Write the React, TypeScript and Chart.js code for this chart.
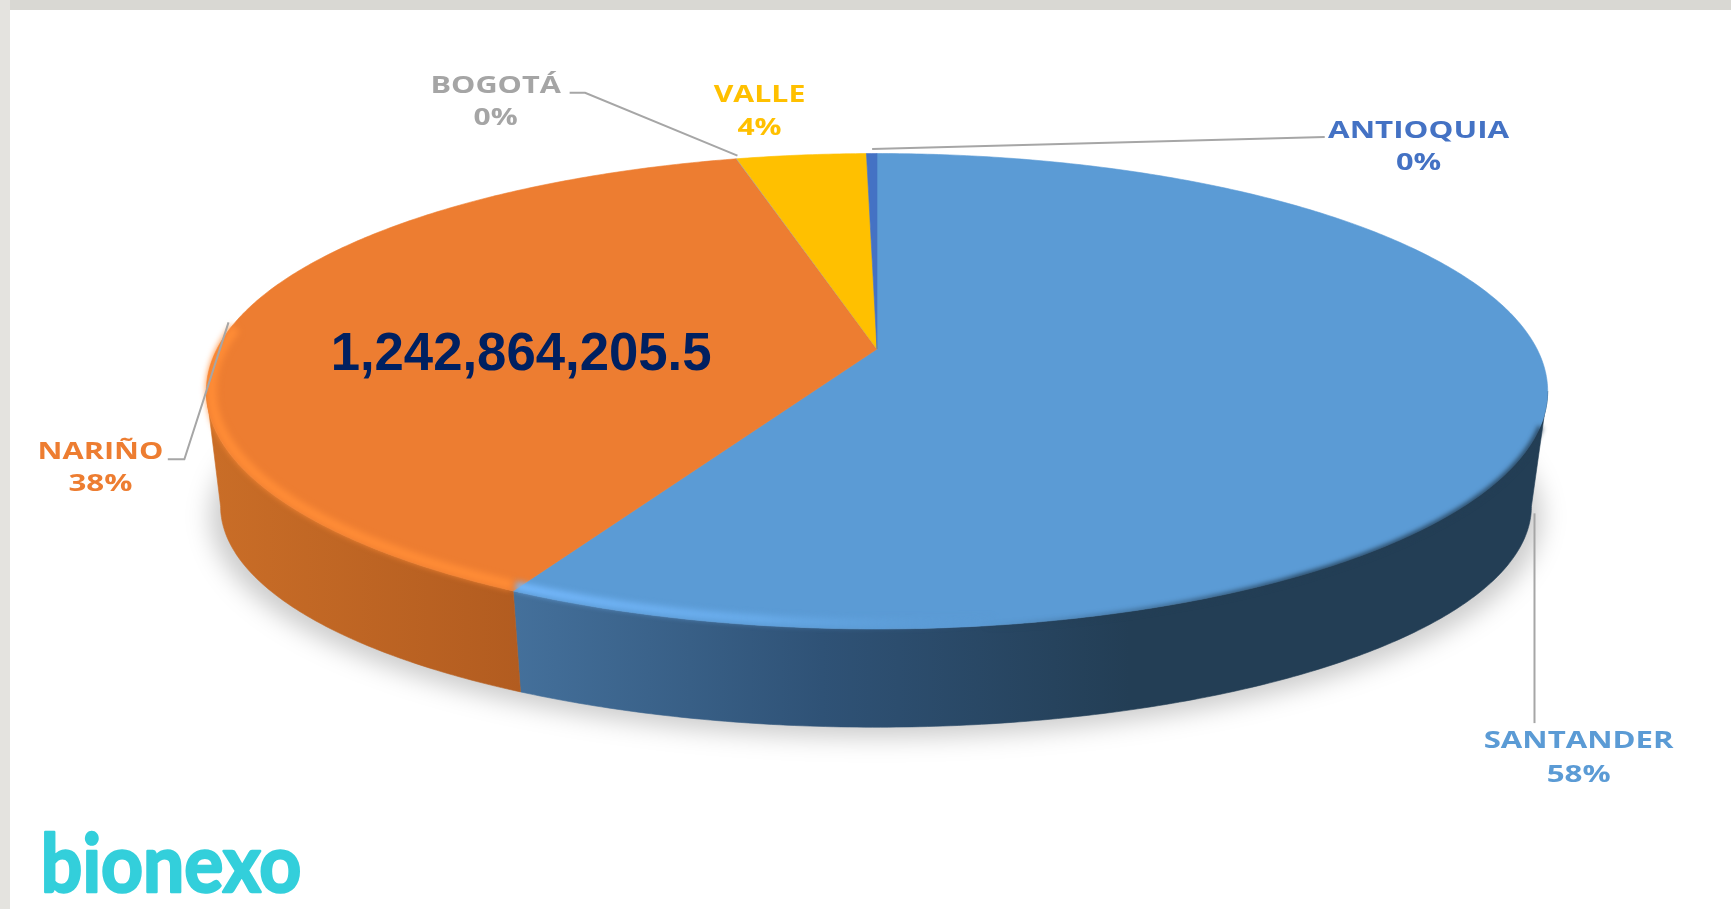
import React, { useEffect, useRef } from "react";
import { Chart, registerables, ArcElement } from "chart.js";

Chart.register(...registerables);

const categories = ["SANTANDER", "NARIÑO", "BOGOTÁ", "VALLE", "ANTIOQUIA"];
const shares = [57.7, 38.3, 0.02, 3.7, 0.3];
const sliceColors = ["#5b9bd5", "#ed7d31", "#a5a5a5", "#ffc000", "#4472c4"];
const annotationText = "1,242,864,205.5";
const brandText = "bionexo";

const W = 1731;
const H = 909;
const k = W / 1568;

// Perspective of the disc: a circle is projected on two parallel planes.
const P = 0.1776;
const TOP = { x: 877, y: 349, a: 660, b: 230.2 };
const BOTTOM = { x: 876, y: 467, a: 645, b: 214 };

type Plane = typeof TOP;
const project = (pl: Plane, ang: number): [number, number] => {
  const u = Math.cos(ang);
  const v = Math.sin(ang);
  const w = 1 - P * v;
  return [pl.x + (pl.a * u) / w, pl.y + (pl.b * v) / w];
};

const rim = (pl: Plane, a0: number, a1: number) => {
  const n = Math.max(2, Math.ceil(Math.abs(a1 - a0) / 0.01));
  const pts: [number, number][] = [];
  for (let i = 0; i <= n; i++) pts.push(project(pl, a0 + ((a1 - a0) * i) / n));
  return pts;
};

const trace = (ctx: CanvasRenderingContext2D, pts: [number, number][], start = false) => {
  pts.forEach((p, i) => (i === 0 && start ? ctx.moveTo(p[0], p[1]) : ctx.lineTo(p[0], p[1])));
};

// The library's arc element keeps its angles, and only its outline is projected.
(ArcElement.prototype as any).draw = function (ctx: CanvasRenderingContext2D) {
  const { startAngle, endAngle } = this.getProps(["startAngle", "endAngle"]);
  ctx.save();
  ctx.beginPath();
  ctx.moveTo(TOP.x, TOP.y);
  trace(ctx, rim(TOP, startAngle, endAngle));
  ctx.closePath();
  ctx.fillStyle = this.options.backgroundColor;
  ctx.strokeStyle = this.options.backgroundColor;
  ctx.lineWidth = 0.6;
  ctx.fill();
  ctx.stroke();
  ctx.restore();
};

const wallPaint = (ctx: CanvasRenderingContext2D, i: number) => {
  const g = ctx.createLinearGradient(i === 1 ? 215 : 515, 0, i === 1 ? 520 : 1130, 0);
  if (i === 1) {
    g.addColorStop(0, "#c96d27");
    g.addColorStop(1, "#b25c20");
  } else {
    g.addColorStop(0, "#44709b");
    g.addColorStop(0.5, "#2f5276");
    g.addColorStop(1, "#233e55");
  }
  return g;
};

// The wall is seen between the two points where the rim is at its widest.
const VIS0 = Math.asin(P);
const VIS1 = Math.PI - Math.asin(P);

const solidPlugin = {
  id: "solid",
  beforeDatasetsDraw(chart: Chart) {
    const ctx = chart.ctx;
    const arcs = chart.getDatasetMeta(0).data as any[];
    // ground shadow
    ctx.save();
    ctx.filter = "blur(12px)";
    ctx.fillStyle = "rgba(0,0,0,0.2)";
    ctx.beginPath();
    trace(ctx, rim({ ...BOTTOM, y: BOTTOM.y + 10, a: BOTTOM.a + 10 }, 0, Math.PI * 2), true);
    ctx.closePath();
    ctx.fill();
    ctx.restore();
    // side walls
    arcs.forEach((arc, i) => {
      const a0 = Math.max(arc.startAngle, VIS0);
      const a1 = Math.min(arc.endAngle, VIS1);
      if (a1 <= a0) return;
      ctx.save();
      ctx.beginPath();
      trace(ctx, rim(TOP, a0, a1), true);
      trace(ctx, rim(BOTTOM, a1, a0));
      ctx.closePath();
      const paint = wallPaint(ctx, i);
      ctx.fillStyle = paint;
      ctx.strokeStyle = paint;
      ctx.lineWidth = 0.6;
      ctx.fill();
      ctx.stroke();
      ctx.restore();
    });
  },
  afterDatasetsDraw(chart: Chart) {
    const ctx = chart.ctx;
    const arcs = chart.getDatasetMeta(0).data as any[];
    const blue = arcs[0];
    const orange = arcs[1];
    ctx.save();
    // light bevel on Santander's front rim, fading out to the right
    ctx.filter = "blur(3px)";
    ctx.lineWidth = 8;
    const gb = ctx.createLinearGradient(515, 0, 1000, 0);
    gb.addColorStop(0, "rgba(118,186,255,1)");
    gb.addColorStop(0.5, "rgba(108,176,240,0.85)");
    gb.addColorStop(1, "rgba(91,155,213,0)");
    ctx.strokeStyle = gb;
    ctx.beginPath();
    trace(ctx, rim({ ...TOP, a: TOP.a - 4, b: TOP.b - 5 }, 1.4, blue.endAngle), true);
    ctx.stroke();
    // dark soft edge on its right
    ctx.filter = "blur(2.5px)";
    ctx.lineWidth = 5;
    const gd = ctx.createLinearGradient(980, 0, 1300, 0);
    gd.addColorStop(0, "rgba(35,62,85,0)");
    gd.addColorStop(1, "rgba(35,62,85,1)");
    ctx.strokeStyle = gd;
    ctx.beginPath();
    trace(ctx, rim({ ...TOP, y: TOP.y + 1 }, 0.32, 1.55), true);
    ctx.stroke();
    // light bevel on Nariño's front rim
    ctx.filter = "blur(3px)";
    ctx.strokeStyle = "#ff8c36";
    ctx.lineWidth = 10;
    ctx.beginPath();
    trace(ctx, rim({ ...TOP, a: TOP.a - 5, b: TOP.b - 5 }, orange.startAngle + 0.006, Math.PI * 1.03), true);
    ctx.stroke();
    ctx.restore();
  },
};

const fitText = (
  ctx: CanvasRenderingContext2D,
  text: string,
  cx: number,
  base: number,
  width: number,
  font: string,
  color: string,
  thicken = 0
) => {
  ctx.save();
  ctx.font = font;
  ctx.fillStyle = color;
  ctx.strokeStyle = color;
  ctx.lineWidth = thicken;
  ctx.lineJoin = "round";
  ctx.textAlign = "center";
  ctx.textBaseline = "alphabetic";
  const sx = width / ctx.measureText(text).width;
  ctx.translate(cx, base);
  ctx.scale(sx, 1);
  ctx.fillText(text, 0, 0);
  if (thicken) ctx.strokeText(text, 0, 0);
  ctx.restore();
};

// Label placement, in the shrunk picture's coordinates, by category index.
const labelBoxes = [
  { cx: 1430, base: 678, w: 172, pw: 58, pb: 708, lead: [[1390, 465], [1390, 655]] },
  { cx: 91, base: 416, w: 114, pw: 58, pb: 445, lead: [[152, 416], [167, 416], [207, 292]] },
  { cx: 449, base: 84, w: 118, pw: 40, pb: 113, lead: [[516, 84], [530, 84], [668, 141]] },
  { cx: 688, base: 92, w: 83, pw: 40, pb: 122, lead: [] },
  { cx: 1285, base: 125, w: 164, pw: 41, pb: 154, lead: [[1200, 124], [790, 135]] },
];

const labelPlugin = {
  id: "labels3d",
  afterDraw(chart: Chart) {
    const ctx = chart.ctx;
    const total = shares.reduce((s, v) => s + v, 0);
    ctx.save();
    ctx.strokeStyle = "#a6a6a6";
    ctx.lineWidth = 2;
    labelBoxes.forEach((b) => {
      if (!b.lead.length) return;
      ctx.beginPath();
      b.lead.forEach((p, i) => (i ? ctx.lineTo(p[0] * k, p[1] * k) : ctx.moveTo(p[0] * k, p[1] * k)));
      ctx.stroke();
    });
    ctx.restore();
    categories.forEach((name, i) => {
      const b = labelBoxes[i];
      const font = 'bold 24px "Open Sans"';
      fitText(ctx, name, b.cx * k, b.base * k, b.w * k, font, sliceColors[i]);
      fitText(ctx, `${Math.round((shares[i] / total) * 100)}%`, b.cx * k, b.pb * k, b.pw * k, font, sliceColors[i]);
    });
    fitText(ctx, annotationText, 472 * k, 335 * k, 345 * k, 'bold 54px "Liberation Sans"', "#002060");
    fitText(ctx, brandText, 155 * k, 808 * k, 236 * k, 'bold 80px "Lato"', "#33cfdb", 2.5);
  },
};

export default function App() {
  const ref = useRef<HTMLCanvasElement>(null);
  useEffect(() => {
    const chart = new Chart(ref.current!, {
      type: "pie",
      data: {
        labels: categories,
        datasets: [{ data: shares, backgroundColor: sliceColors, borderWidth: 0 }],
      },
      options: {
        responsive: false,
        animation: false,
        events: [],
        plugins: { legend: { display: false }, tooltip: { enabled: false } },
      },
      plugins: [solidPlugin, labelPlugin],
    });
    return () => chart.destroy();
  }, []);
  return (
    <div style={{ position: "fixed", left: 0, top: 0, width: W, height: H, background: "#ffffff", overflow: "hidden" }}>
      <div style={{ position: "absolute", left: 0, top: 0, width: W, height: 10, background: "#d9d8d3" }} />
      <div style={{ position: "absolute", left: 0, top: 0, width: 10, height: H, background: "#e4e3df" }} />
      <canvas ref={ref} width={W} height={H} style={{ position: "absolute", left: 0, top: 0, display: "block" }} />
    </div>
  );
}
